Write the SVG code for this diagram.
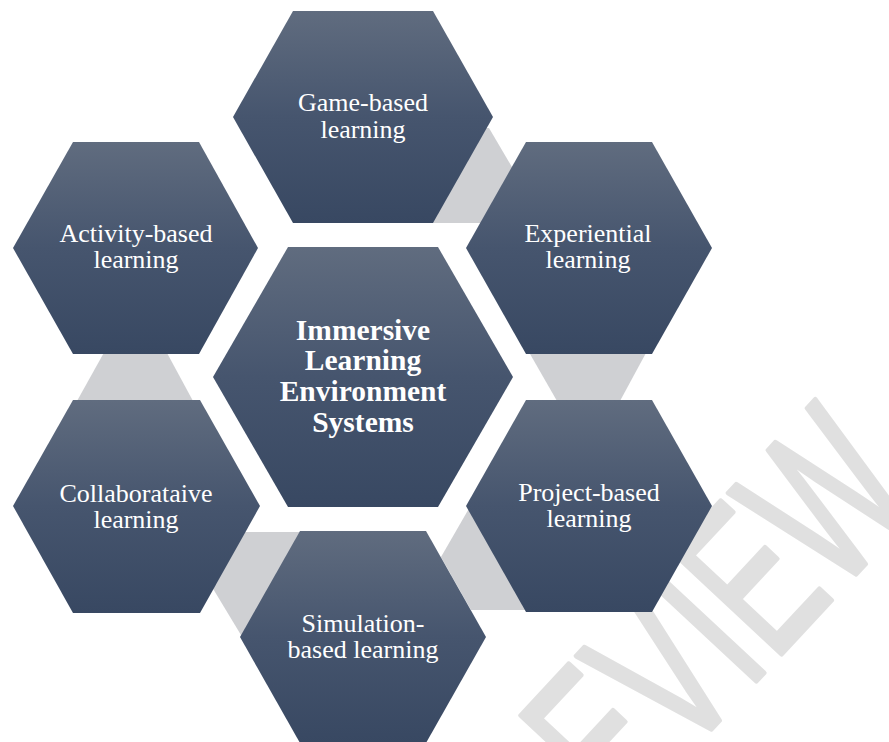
<svg xmlns="http://www.w3.org/2000/svg" width="889" height="742" viewBox="0 0 889 742">
<defs>
<linearGradient id="hexGrad" x1="0" y1="0" x2="0" y2="1">
<stop offset="0" stop-color="#606c7f"/>
<stop offset="0.5" stop-color="#46556e"/>
<stop offset="1" stop-color="#384862"/>
</linearGradient>
<style>
.hex{fill:url(#hexGrad);}
.conn{fill:#cfd0d3;}
.lbl{font-family:"Liberation Serif","Times New Roman",serif;font-size:26px;fill:#ffffff;text-anchor:middle;}
.title{font-family:"Liberation Serif","Times New Roman",serif;font-size:29.5px;font-weight:bold;fill:#ffffff;text-anchor:middle;}
.wm{font-family:"Liberation Sans",Arial,sans-serif;font-size:216px;fill:#e0e0e0;stroke:#e0e0e0;stroke-width:5;stroke-linejoin:round;text-anchor:end;}
</style>
</defs>
<rect x="0" y="0" width="889" height="742" fill="#ffffff"/>
<g id="watermark">
<text class="wm" x="0" y="0" transform="translate(925,500) rotate(-47) scale(0.64,1)">PREVIEW</text>
</g>
<g id="connectors">
<polygon class="conn" points="470,128 489,128 516,174 500,223 420,223"/>
<polygon class="conn" points="522,340 653,340 620,401 557,401"/>
<polygon class="conn" points="471,505 500,505 530,610 471,610 441,557"/>
<polygon class="conn" points="241,532 305,532 280,645 247,645 212,587"/>
<polygon class="conn" points="111,340 160,340 193,401 77,401"/>
</g>
<g id="center">
<polygon class="hex" points="213,377 288,247 438,247 513,377 438,507 288,507"/>
<text class="title" x="363" y="340">Immersive</text>
<text class="title" x="363" y="370">Learning</text>
<text class="title" x="363" y="401">Environment</text>
<text class="title" x="363" y="432">Systems</text>
</g>
<g id="game">
<polygon class="hex" points="233,117 293,11 433,11 493,117 433,223 293,223"/>
<text class="lbl" x="363" y="111">Game-based</text>
<text class="lbl" x="363" y="138">learning</text>
</g>
<g id="experiential">
<polygon class="hex" points="466,248 526,142 652,142 712,248 652,354 526,354"/>
<text class="lbl" x="588" y="242">Experiential</text>
<text class="lbl" x="588" y="268">learning</text>
</g>
<g id="project">
<polygon class="hex" points="466,506 526,400 652,400 712,506 652,612 526,612"/>
<text class="lbl" x="589" y="501">Project-based</text>
<text class="lbl" x="589" y="527">learning</text>
</g>
<g id="simulation">
<polygon class="hex" points="240,637 300,531 426,531 486,637 426,743 300,743"/>
<text class="lbl" x="363" y="632">Simulation-</text>
<text class="lbl" x="363" y="658">based learning</text>
</g>
<g id="collaborative">
<polygon class="hex" points="13,506 73,400 200,400 260,506 200,613 73,613"/>
<text class="lbl" x="136" y="502">Collaborataive</text>
<text class="lbl" x="136" y="528">learning</text>
</g>
<g id="activity">
<polygon class="hex" points="13,248 73,142 199,142 258,248 199,354 73,354"/>
<text class="lbl" x="136" y="242">Activity-based</text>
<text class="lbl" x="136" y="268">learning</text>
</g>
</svg>
